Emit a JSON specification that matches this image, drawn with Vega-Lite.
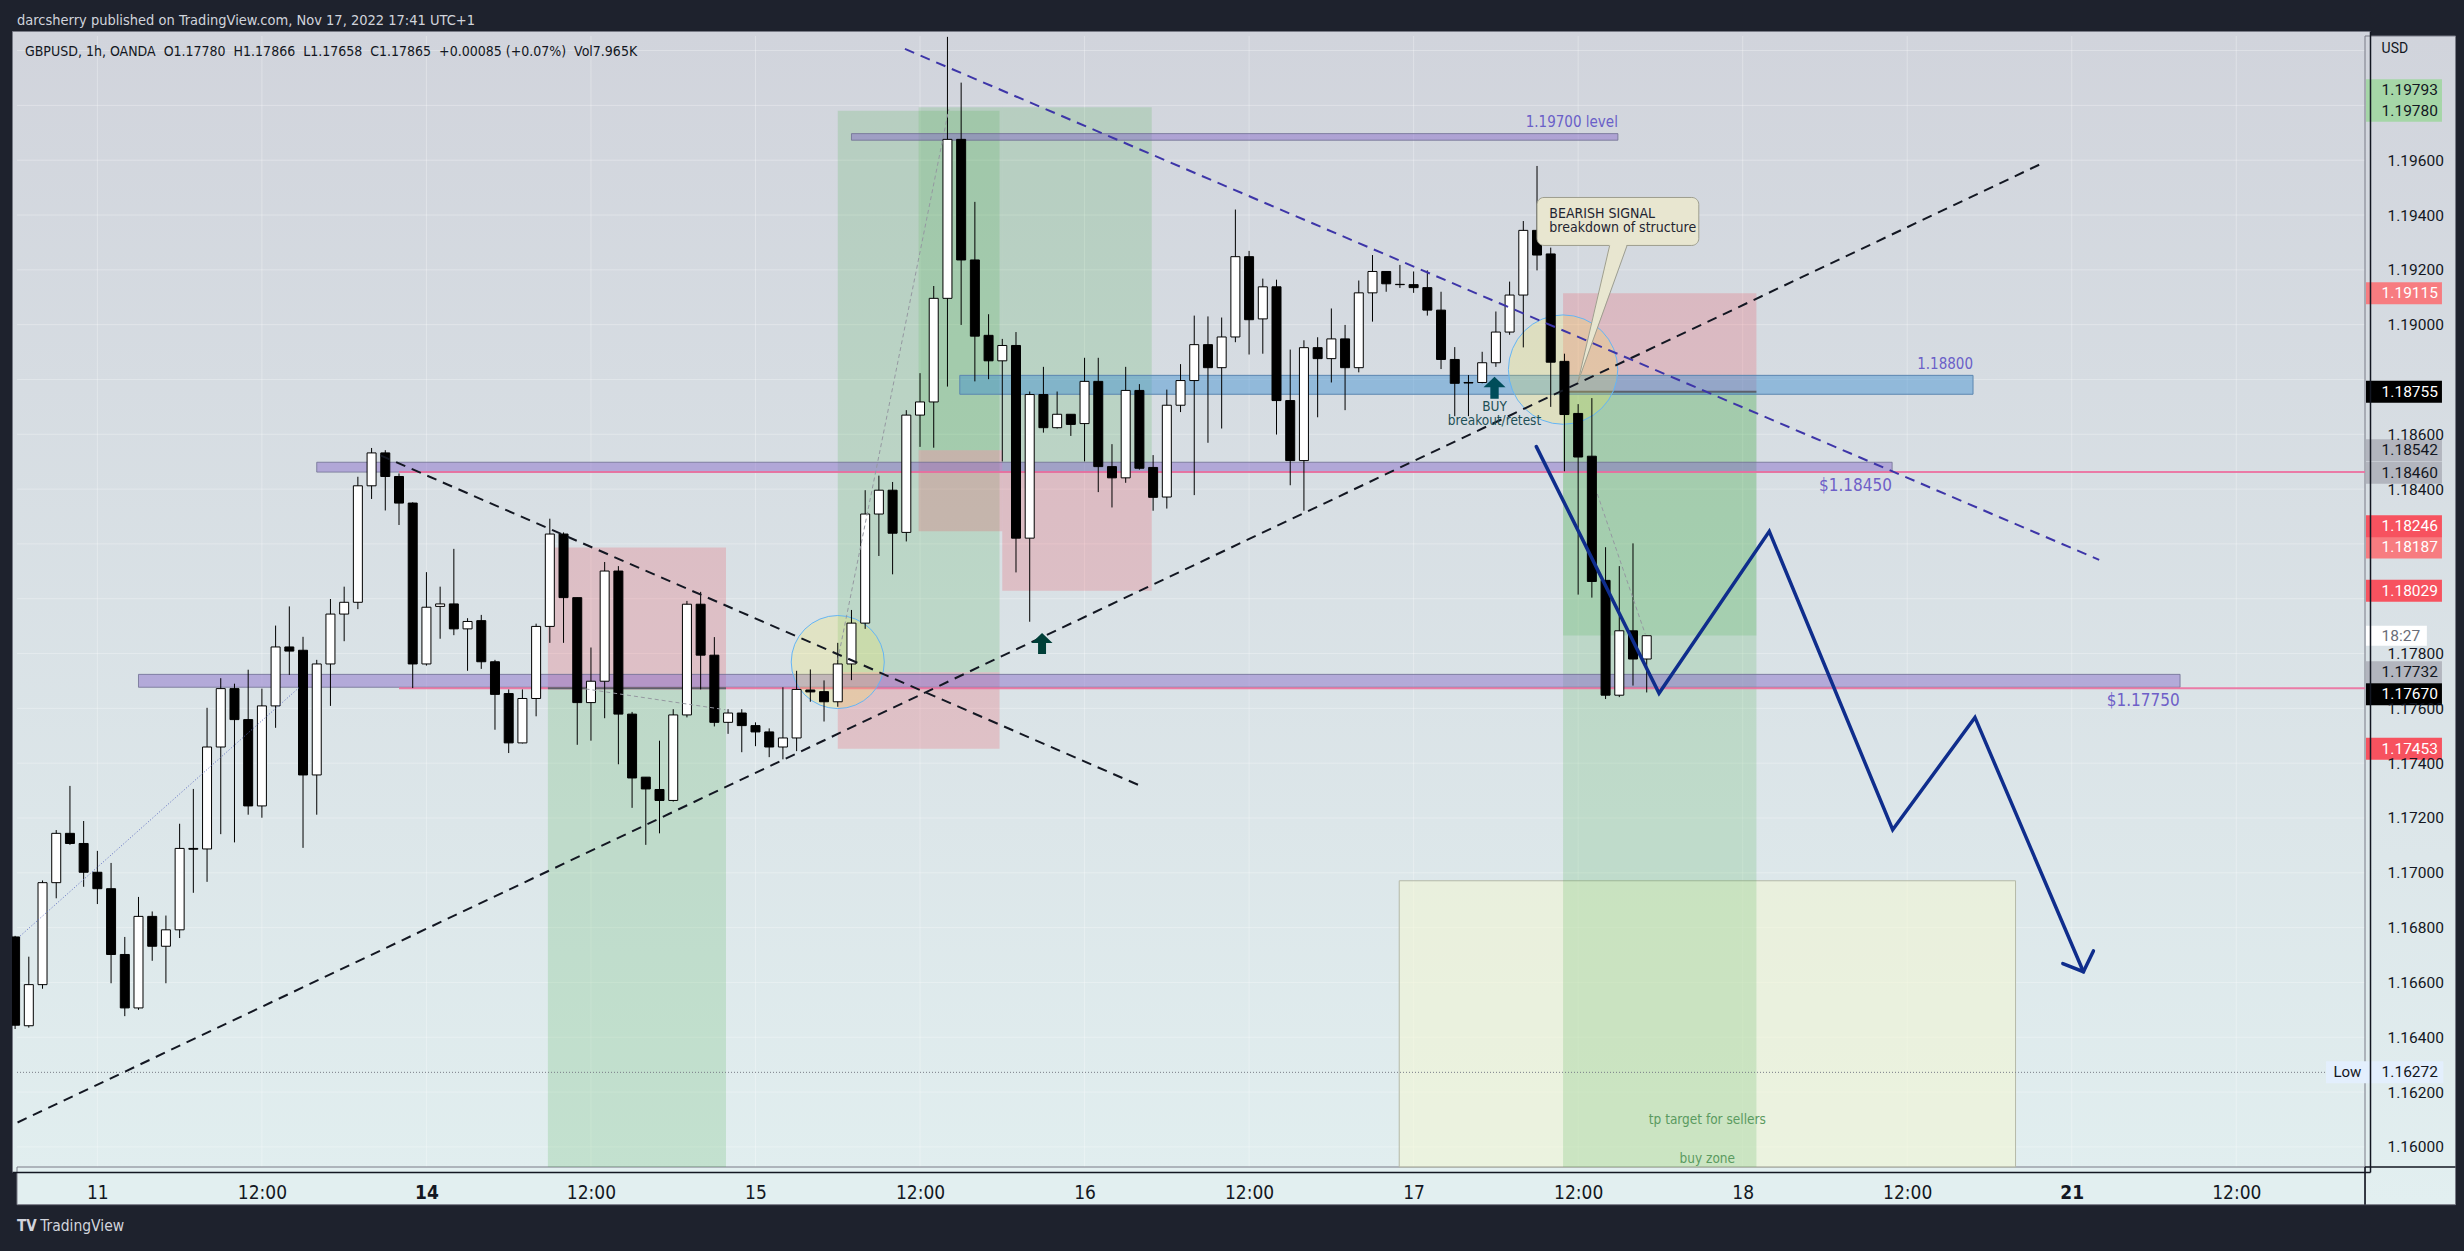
{
"$schema": "https://vega.github.io/schema/vega-lite/v6.json",
"width": 2358, "height": 1141,
"autosize": {"type": "none"},
"padding": {"left": 12, "top": 31, "right": 94, "bottom": 79},
"background": "#1e222d",
"config": {
  "view": {"fill": {"gradient": "linear", "x1": 0, "y1": 0, "x2": 0, "y2": 1, "stops": [{"offset": 0, "color": "#d1d4dc"}, {"offset": 1, "color": "#e1eeef"}]}, "stroke": "#787b86", "strokeWidth": 1},
  "axis": {"grid": false, "ticks": false, "domain": false, "labels": false, "titleOpacity": 0},
  "text": {"font": "Liberation Sans Narrow, Arial Narrow, DejaVu Sans Condensed, sans-serif", "baseline": "middle"}
},
"datasets": {
  "candles": [
    {"i":-6,"o":1.16766,"h":1.1677,"l":1.1643,"c":1.16444},
    {"i":-5,"o":1.16442,"h":1.16694,"l":1.16435,"c":1.16592},
    {"i":-4,"o":1.16592,"h":1.16972,"l":1.16577,"c":1.16964},
    {"i":-3,"o":1.16964,"h":1.17156,"l":1.16907,"c":1.17144},
    {"i":-2,"o":1.17144,"h":1.17317,"l":1.17102,"c":1.17107},
    {"i":-1,"o":1.17107,"h":1.17189,"l":1.16949,"c":1.17002},
    {"i":0,"o":1.17002,"h":1.1708,"l":1.16886,"c":1.16942},
    {"i":1,"o":1.16942,"h":1.17036,"l":1.16597,"c":1.16702},
    {"i":2,"o":1.16702,"h":1.16766,"l":1.16477,"c":1.16507},
    {"i":3,"o":1.16507,"h":1.16912,"l":1.165,"c":1.16841},
    {"i":4,"o":1.16841,"h":1.16859,"l":1.16679,"c":1.16732},
    {"i":5,"o":1.16732,"h":1.16844,"l":1.16597,"c":1.16792},
    {"i":6,"o":1.16792,"h":1.17179,"l":1.16762,"c":1.17089},
    {"i":7,"o":1.17089,"h":1.17306,"l":1.16927,"c":1.17086},
    {"i":8,"o":1.17087,"h":1.17602,"l":1.16967,"c":1.17459},
    {"i":9,"o":1.17459,"h":1.1771,"l":1.17141,"c":1.17672},
    {"i":10,"o":1.17672,"h":1.1769,"l":1.17111,"c":1.17559},
    {"i":11,"o":1.17559,"h":1.17741,"l":1.17212,"c":1.17244},
    {"i":12,"o":1.17244,"h":1.17672,"l":1.17201,"c":1.17609},
    {"i":13,"o":1.17609,"h":1.17902,"l":1.17529,"c":1.17824},
    {"i":14,"o":1.17824,"h":1.17972,"l":1.17722,"c":1.17809},
    {"i":15,"o":1.17812,"h":1.17861,"l":1.17091,"c":1.17357},
    {"i":16,"o":1.17357,"h":1.17777,"l":1.17212,"c":1.17762},
    {"i":17,"o":1.17762,"h":1.17999,"l":1.17609,"c":1.17944},
    {"i":18,"o":1.17944,"h":1.18044,"l":1.17845,"c":1.17987},
    {"i":19,"o":1.17987,"h":1.18445,"l":1.17962,"c":1.18412},
    {"i":20,"o":1.18412,"h":1.1855,"l":1.18364,"c":1.18532},
    {"i":21,"o":1.18532,"h":1.18542,"l":1.18322,"c":1.18446},
    {"i":22,"o":1.18446,"h":1.18457,"l":1.18269,"c":1.18349},
    {"i":23,"o":1.18349,"h":1.18352,"l":1.17674,"c":1.17762},
    {"i":24,"o":1.17762,"h":1.18097,"l":1.17756,"c":1.17969},
    {"i":25,"o":1.17972,"h":1.18044,"l":1.17854,"c":1.17981},
    {"i":26,"o":1.17981,"h":1.18182,"l":1.17867,"c":1.1789},
    {"i":27,"o":1.1789,"h":1.17929,"l":1.17737,"c":1.17917},
    {"i":28,"o":1.1792,"h":1.17941,"l":1.17744,"c":1.1777},
    {"i":29,"o":1.1777,"h":1.17777,"l":1.17522,"c":1.17651},
    {"i":30,"o":1.17654,"h":1.17669,"l":1.17437,"c":1.17474},
    {"i":31,"o":1.17474,"h":1.17669,"l":1.17472,"c":1.17636},
    {"i":32,"o":1.17636,"h":1.17909,"l":1.17571,"c":1.17899},
    {"i":33,"o":1.17899,"h":1.18292,"l":1.17839,"c":1.18236},
    {"i":34,"o":1.18236,"h":1.18242,"l":1.17839,"c":1.18004},
    {"i":35,"o":1.18004,"h":1.18004,"l":1.17467,"c":1.17621},
    {"i":36,"o":1.17621,"h":1.17822,"l":1.17482,"c":1.17699},
    {"i":37,"o":1.17699,"h":1.18134,"l":1.17564,"c":1.18101},
    {"i":38,"o":1.18101,"h":1.18119,"l":1.17396,"c":1.17579},
    {"i":39,"o":1.17579,"h":1.17587,"l":1.17237,"c":1.17346},
    {"i":40,"o":1.17349,"h":1.17349,"l":1.17102,"c":1.17306},
    {"i":41,"o":1.17304,"h":1.17482,"l":1.17144,"c":1.17264},
    {"i":42,"o":1.17264,"h":1.17597,"l":1.1726,"c":1.17576},
    {"i":43,"o":1.17576,"h":1.17992,"l":1.17567,"c":1.1798},
    {"i":44,"o":1.1798,"h":1.18025,"l":1.17669,"c":1.17794},
    {"i":45,"o":1.17794,"h":1.1786,"l":1.17534,"c":1.17549},
    {"i":46,"o":1.17549,"h":1.17597,"l":1.17507,"c":1.17583},
    {"i":47,"o":1.17583,"h":1.17597,"l":1.1744,"c":1.17537},
    {"i":48,"o":1.17537,"h":1.17549,"l":1.17462,"c":1.17514},
    {"i":49,"o":1.17514,"h":1.17527,"l":1.17422,"c":1.17459},
    {"i":50,"o":1.17459,"h":1.17677,"l":1.17414,"c":1.17492},
    {"i":51,"o":1.17492,"h":1.17737,"l":1.17444,"c":1.17669},
    {"i":52,"o":1.17667,"h":1.17742,"l":1.17624,"c":1.1766},
    {"i":53,"o":1.17661,"h":1.17702,"l":1.17552,"c":1.17624},
    {"i":54,"o":1.17624,"h":1.17839,"l":1.17606,"c":1.17762},
    {"i":55,"o":1.17762,"h":1.17959,"l":1.17703,"c":1.17911},
    {"i":56,"o":1.17911,"h":1.18396,"l":1.1789,"c":1.18309},
    {"i":57,"o":1.18309,"h":1.18449,"l":1.18156,"c":1.18396},
    {"i":58,"o":1.18396,"h":1.18426,"l":1.18089,"c":1.18239},
    {"i":59,"o":1.18242,"h":1.18688,"l":1.18209,"c":1.1867},
    {"i":60,"o":1.1867,"h":1.18823,"l":1.18554,"c":1.18718},
    {"i":61,"o":1.18718,"h":1.19141,"l":1.18551,"c":1.19096},
    {"i":62,"o":1.19096,"h":1.2005,"l":1.18774,"c":1.19676},
    {"i":63,"o":1.19676,"h":1.19883,"l":1.18999,"c":1.19236},
    {"i":64,"o":1.19236,"h":1.19448,"l":1.18793,"c":1.18958},
    {"i":65,"o":1.18961,"h":1.19038,"l":1.18801,"c":1.18868},
    {"i":66,"o":1.18868,"h":1.18948,"l":1.18501,"c":1.18924},
    {"i":67,"o":1.18924,"h":1.18973,"l":1.18096,"c":1.18221},
    {"i":68,"o":1.18221,"h":1.18756,"l":1.17916,"c":1.18745},
    {"i":69,"o":1.18745,"h":1.18846,"l":1.18606,"c":1.18624},
    {"i":70,"o":1.18624,"h":1.18756,"l":1.18621,"c":1.18673},
    {"i":71,"o":1.18673,"h":1.18673,"l":1.18594,"c":1.18636},
    {"i":72,"o":1.18639,"h":1.18879,"l":1.18501,"c":1.18793},
    {"i":73,"o":1.18793,"h":1.18879,"l":1.18389,"c":1.18482},
    {"i":74,"o":1.18482,"h":1.18564,"l":1.18333,"c":1.18441},
    {"i":75,"o":1.18441,"h":1.18846,"l":1.18423,"c":1.1876},
    {"i":76,"o":1.1876,"h":1.18783,"l":1.18471,"c":1.18476},
    {"i":77,"o":1.18479,"h":1.18524,"l":1.18321,"c":1.1837},
    {"i":78,"o":1.18371,"h":1.18763,"l":1.18329,"c":1.18706},
    {"i":79,"o":1.18706,"h":1.18856,"l":1.18681,"c":1.18796},
    {"i":80,"o":1.18796,"h":1.19033,"l":1.18378,"c":1.18927},
    {"i":81,"o":1.18927,"h":1.1903,"l":1.18569,"c":1.18843},
    {"i":82,"o":1.18843,"h":1.19026,"l":1.18621,"c":1.18955},
    {"i":83,"o":1.18955,"h":1.1942,"l":1.18936,"c":1.19248},
    {"i":84,"o":1.19248,"h":1.19269,"l":1.18891,"c":1.19018},
    {"i":85,"o":1.19021,"h":1.19168,"l":1.18894,"c":1.19138},
    {"i":86,"o":1.19138,"h":1.19164,"l":1.18599,"c":1.18723},
    {"i":87,"o":1.18723,"h":1.18909,"l":1.18414,"c":1.18504},
    {"i":88,"o":1.18504,"h":1.18943,"l":1.18321,"c":1.18916},
    {"i":89,"o":1.18916,"h":1.18954,"l":1.18662,"c":1.18876},
    {"i":90,"o":1.18876,"h":1.19059,"l":1.18789,"c":1.18948},
    {"i":91,"o":1.18948,"h":1.18999,"l":1.18688,"c":1.18843},
    {"i":92,"o":1.18843,"h":1.19161,"l":1.18826,"c":1.19116},
    {"i":93,"o":1.19116,"h":1.19254,"l":1.19011,"c":1.19194},
    {"i":94,"o":1.19194,"h":1.19194,"l":1.1912,"c":1.19149},
    {"i":95,"o":1.19147,"h":1.19218,"l":1.19134,"c":1.19146},
    {"i":96,"o":1.19146,"h":1.19194,"l":1.19116,"c":1.19135},
    {"i":97,"o":1.19135,"h":1.19198,"l":1.19033,"c":1.19053},
    {"i":98,"o":1.19053,"h":1.1912,"l":1.18838,"c":1.18873},
    {"i":99,"o":1.18873,"h":1.18918,"l":1.18666,"c":1.18786},
    {"i":100,"o":1.18789,"h":1.18816,"l":1.18666,"c":1.18787},
    {"i":101,"o":1.18789,"h":1.18901,"l":1.18786,"c":1.18861},
    {"i":102,"o":1.18861,"h":1.19048,"l":1.18846,"c":1.18973},
    {"i":103,"o":1.18973,"h":1.19157,"l":1.18963,"c":1.19108},
    {"i":104,"o":1.19108,"h":1.19378,"l":1.18917,"c":1.19344},
    {"i":105,"o":1.19344,"h":1.19579,"l":1.19198,"c":1.19254},
    {"i":106,"o":1.19258,"h":1.19281,"l":1.187,"c":1.18863},
    {"i":107,"o":1.18866,"h":1.18894,"l":1.18465,"c":1.18672},
    {"i":108,"o":1.18676,"h":1.1871,"l":1.18015,"c":1.18517},
    {"i":109,"o":1.1852,"h":1.18732,"l":1.18004,"c":1.18063},
    {"i":110,"o":1.18067,"h":1.18188,"l":1.17634,"c":1.17648},
    {"i":111,"o":1.17648,"h":1.18119,"l":1.17641,"c":1.17883},
    {"i":112,"o":1.17883,"h":1.18202,"l":1.17683,"c":1.1778},
    {"i":113,"o":1.1778,"h":1.17866,"l":1.17658,"c":1.17865}
  ],
  "gx": [{"i":0},{"i":12},{"i":24},{"i":36},{"i":48},{"i":60},{"i":72},{"i":84},{"i":96},{"i":108},{"i":120},{"i":132},{"i":144},{"i":156}],
  "gy": [{"p":1.16},{"p":1.162},{"p":1.164},{"p":1.166},{"p":1.168},{"p":1.17},{"p":1.172},{"p":1.174},{"p":1.176},{"p":1.178},{"p":1.18},{"p":1.182},{"p":1.184},{"p":1.186},{"p":1.188},{"p":1.19},{"p":1.192},{"p":1.194},{"p":1.196},{"p":1.198},{"p":1.2}],
  "panels": [{"k":"right","i":165.388,"i2":171.99,"p":1.2005316,"p2":1.157892},{"k":"bottom","i":-5.861,"i2":165.388,"p":1.159266,"p2":1.157892}],
  "frame": [{"i":165.388,"i2":165.388,"p":1.159266,"p2":1.157892},{"i":165.388,"i2":171.99,"p":1.159266,"p2":1.159266}],
  "zones": [
    {"k":"g","i":32.86,"i2":45.85,"p":1.17673,"p2":1.159266},
    {"k":"g","i":54.0,"i2":65.8,"p":1.17732,"p2":1.1978},
    {"k":"g","i":59.9,"i2":66.0,"p":1.18542,"p2":1.19793},
    {"k":"g","i":66.0,"i2":76.9,"p":1.1846,"p2":1.19793},
    {"k":"g","i":106.9,"i2":121.0,"p":1.18755,"p2":1.159266},
    {"k":"g","i":106.9,"i2":121.0,"p":1.18755,"p2":1.17866},
    {"k":"r","i":32.86,"i2":45.85,"p":1.17673,"p2":1.18187},
    {"k":"r","i":54.0,"i2":65.8,"p":1.17732,"p2":1.17453},
    {"k":"r","i":59.9,"i2":66.0,"p":1.18542,"p2":1.18246},
    {"k":"r","i":66.0,"i2":76.9,"p":1.1846,"p2":1.18029},
    {"k":"r","i":106.9,"i2":121.0,"p":1.18755,"p2":1.19115}
  ],
  "bands": [
    {"i":55.0,"i2":110.9,"p":1.19697,"p2":1.19673},
    {"i":16.0,"i2":130.9,"p":1.18498,"p2":1.18462},
    {"i":3.0,"i2":151.9,"p":1.17724,"p2":1.17677}
  ],
  "blue": [{"i":62.9,"i2":136.8,"p":1.18815,"p2":1.18746}],
  "yzone": [{"i":94.95,"i2":139.9,"p":1.16971,"p2":1.159266}],
  "pinks": [{"i":22.0,"i2":165.388,"p":1.18462},{"i":22.0,"i2":165.388,"p":1.17673}],
  "entries": [{"i":32.86,"i2":45.85,"p":1.17673},{"i":106.9,"i2":121.0,"p":1.18755}],
  "lowline": [{"i":-5.861,"i2":162.55,"p":1.16272}],
  "circles": [{"k":"a","i":54.0,"p":1.17769},{"k":"b","i":106.9,"p":1.18836}],
  "lines": [
    {"id":"up","i":-5.82,"p":1.16089},{"id":"up","i":141.9,"p":1.1959},
    {"id":"dn","i":20.65,"p":1.18523},{"id":"dn","i":76.0,"p":1.17319},
    {"id":"navy","i":58.9,"p":1.20006},{"id":"navy","i":146.0,"p":1.18142},
    {"id":"thin","i":-5.62,"p":1.1677},{"id":"thin","i":14.76,"p":1.17678},
    {"id":"g1","i":54.0,"p":1.17777},{"id":"g1","i":62.1,"p":1.19786},
    {"id":"g2","i":109.4,"p":1.18382},{"id":"g2","i":112.9,"p":1.1787},
    {"id":"g3","i":35.6,"p":1.17671},{"id":"g3","i":45.8,"p":1.17595}
  ],
  "zig": [
    {"g":"z","s":1,"i":104.95,"p":1.18555},{"g":"z","s":2,"i":113.9,"p":1.17655},
    {"g":"z","s":3,"i":121.94,"p":1.18246},{"g":"z","s":4,"i":130.94,"p":1.17157},
    {"g":"z","s":5,"i":136.94,"p":1.17567},{"g":"z","s":6,"i":144.85,"p":1.16639},
    {"g":"h","s":1,"i":143.35,"p":1.16669},{"g":"h","s":2,"i":144.85,"p":1.16639},
    {"g":"h","s":3,"i":145.58,"p":1.16715}
  ],
  "arrows": [{"k":"buy","i":101.9,"p":1.1877},{"k":"small","i":68.9,"p":1.17837}],
  "callout": [{"i":105.0,"i2":116.8,"p":1.19464,"p2":1.19289}],
  "pointer": [{"p":1.19295,"i":110.3,"i2":111.57},{"p":1.1879,"i":107.98,"i2":107.98}],
  "pointerSides": [
    {"g":"a","i":110.3,"p":1.19289},{"g":"a","i":107.98,"p":1.1879},
    {"g":"b","i":111.57,"p":1.19289},{"g":"b","i":107.98,"p":1.1879}
  ],
  "notes": [
    {"k":"hdr","i":-5.861,"p":1.201074,"t":"darcsherry published on TradingView.com, Nov 17, 2022 17:41 UTC+1"},
    {"k":"ohlc","i":-5.28,"p":1.199964,"t":"GBPUSD, 1h, OANDA\u00a0\u00a0O1.17780\u00a0\u00a0H1.17866\u00a0\u00a0L1.17658\u00a0\u00a0C1.17865\u00a0\u00a0+0.00085 (+0.07%)\u00a0\u00a0Vol7.965K"},
    {"k":"usd","i":166.6,"p":1.200062,"t":"USD"},
    {"k":"logo1","i":-5.861,"p":1.157096,"t":"TV"},
    {"k":"logo2","i":-4.17,"p":1.157096,"t":"TradingView"},
    {"k":"band","i":110.9,"p":1.19738,"t":"1.19700 level"},
    {"k":"band","i":136.8,"p":1.18855,"t":"1.18800"},
    {"k":"bandL","i":130.89,"p":1.18412,"t":"$1.18450"},
    {"k":"bandL","i":151.87,"p":1.17628,"t":"$1.17750"},
    {"k":"buy","i":101.9,"p":1.18698,"t":"BUY"},
    {"k":"buy","i":101.9,"p":1.18649,"t":"breakout/retest"},
    {"k":"call","i":105.9,"p":1.19403,"t":"BEARISH SIGNAL"},
    {"k":"call","i":105.9,"p":1.19353,"t":"breakdown of structure"},
    {"k":"zone","i":117.42,"p":1.16099,"t":"tp target for sellers"},
    {"k":"zone","i":117.42,"p":1.15955,"t":"buy zone"}
  ],
  "tags": [
    {"p":1.19793,"t":"1.19793","k":"tp"},
    {"p":1.1978,"t":"1.19780","k":"tp"},
    {"p":1.19115,"t":"1.19115","k":"sl2"},
    {"p":1.18755,"t":"1.18755","k":"en"},
    {"p":1.18542,"t":"1.18542","k":"el"},
    {"p":1.1846,"t":"1.18460","k":"el"},
    {"p":1.18246,"t":"1.18246","k":"sl"},
    {"p":1.18187,"t":"1.18187","k":"sl2"},
    {"p":1.18029,"t":"1.18029","k":"sl"},
    {"p":1.17732,"t":"1.17732","k":"el"},
    {"p":1.1767,"t":"1.17670","k":"en"},
    {"p":1.17453,"t":"1.17453","k":"sl"}
  ],
  "countdown": [{"p":1.17865,"t":"18:27"}],
  "lowtag": [{"p":1.16272,"t":"1.16272"}]
},
"layer": [
  {
    "data": {"name": "gx"},
    "mark": {"type": "rule", "color": "#ffffff", "opacity": 0.3, "strokeWidth": 1},
    "encoding": {
      "x": {"field": "i", "type": "quantitative", "scale": {"domain": [-5.861, 165.388], "nice": false, "zero": false},
        "axis": {"orient": "bottom", "zindex": 1, "values": [0,12,24,36,48,60,72,84,96,108,120,132,144,156],
          "labelExpr": "['11','12:00','14','12:00','15','12:00','16','12:00','17','12:00','18','12:00','21','12:00'][round(datum.value/12)]",
          "labels": true, "ticks": false, "tickSize": 0, "grid": false, "domain": true, "domainColor": "#131722", "domainWidth": 1.5,
          "labelFont": "Liberation Sans Narrow, Arial Narrow, DejaVu Sans Condensed, sans-serif", "labelFontSize": 19, "labelColor": "#131722",
          "labelFontWeight": {"condition": {"test": "datum.value == 24 || datum.value == 144", "value": "bold"}, "value": "normal"},
          "labelPadding": 20, "labelBaseline": "middle", "labelFlush": false, "labelOverlap": false, "title": null}},
      "y": {"datum": 1.2005316, "type": "quantitative", "scale": {"domain": [1.159266, 1.2005316], "nice": false, "zero": false}},
      "y2": {"datum": 1.159266}
    }
  },
  {
    "data": {"name": "gy"},
    "mark": {"type": "rule", "color": "#ffffff", "opacity": 0.3, "strokeWidth": 1},
    "encoding": {
      "y": {"field": "p", "type": "quantitative", "scale": {"domain": [1.159266, 1.2005316], "nice": false, "zero": false},
        "axis": {"orient": "right", "zindex": 1, "values": [1.16,1.162,1.164,1.166,1.168,1.17,1.172,1.174,1.176,1.178,1.184,1.186,1.19,1.192,1.194,1.196],
          "format": ".5f", "labels": true, "ticks": false, "tickSize": 0, "grid": false, "domain": true, "domainColor": "#131722", "domainWidth": 1.5,
          "labelFont": "Roboto, sans-serif", "labelFontSize": 15.5, "labelColor": "#131722", "labelPadding": 17, "labelAlign": "left",
          "labelBaseline": "middle", "labelFlush": false, "labelOverlap": false, "title": null}},
      "x": {"datum": -5.861, "type": "quantitative", "scale": {"domain": [-5.861, 165.388], "nice": false, "zero": false}},
      "x2": {"datum": 165.388}
    }
  },
  {
    "data": {"name": "panels"},
    "transform": [{"filter": "datum.k == 'right'"}],
    "mark": {"type": "rect", "fill": {"gradient": "linear", "x1": 0, "y1": 0, "x2": 0, "y2": 1, "stops": [{"offset": 0, "color": "#d1d4dc"}, {"offset": 1, "color": "#e2eff0"}]}, "stroke": "#787b86", "strokeWidth": 1},
    "encoding": {
      "x": {"field": "i", "type": "quantitative"}, "x2": {"field": "i2"},
      "y": {"field": "p", "type": "quantitative"}, "y2": {"field": "p2"}
    }
  },
  {
    "data": {"name": "panels"},
    "transform": [{"filter": "datum.k == 'bottom'"}],
    "mark": {"type": "rect", "fill": "#e2eff0", "stroke": "#787b86", "strokeWidth": 1},
    "encoding": {
      "x": {"field": "i", "type": "quantitative"}, "x2": {"field": "i2"},
      "y": {"field": "p", "type": "quantitative"}, "y2": {"field": "p2"}
    }
  },
  {
    "data": {"name": "frame"},
    "mark": {"type": "rule", "color": "#131722", "strokeWidth": 1.5},
    "encoding": {
      "x": {"field": "i", "type": "quantitative"}, "x2": {"field": "i2"},
      "y": {"field": "p", "type": "quantitative"}, "y2": {"field": "p2"}
    }
  },
  {
    "data": {"name": "yzone"},
    "mark": {"type": "rect", "fill": "#f6f8cf", "fillOpacity": 0.5, "stroke": "#b5b9a8", "strokeWidth": 1},
    "encoding": {
      "x": {"field": "i", "type": "quantitative"}, "x2": {"field": "i2"},
      "y": {"field": "p", "type": "quantitative"}, "y2": {"field": "p2"}
    }
  },
  {
    "data": {"name": "zones"},
    "transform": [{"filter": "datum.k == 'g'"}],
    "mark": {"type": "rect", "fill": "#4caf50", "fillOpacity": 0.2},
    "encoding": {
      "x": {"field": "i", "type": "quantitative"}, "x2": {"field": "i2"},
      "y": {"field": "p", "type": "quantitative"}, "y2": {"field": "p2"}
    }
  },
  {
    "data": {"name": "zones"},
    "transform": [{"filter": "datum.k == 'r'"}],
    "mark": {"type": "rect", "fill": "#f23645", "fillOpacity": 0.2},
    "encoding": {
      "x": {"field": "i", "type": "quantitative"}, "x2": {"field": "i2"},
      "y": {"field": "p", "type": "quantitative"}, "y2": {"field": "p2"}
    }
  },
  {
    "data": {"name": "bands"},
    "mark": {"type": "rect", "fill": "#8264c8", "fillOpacity": 0.45, "stroke": "#6f6f92", "strokeOpacity": 0.8, "strokeWidth": 1},
    "encoding": {
      "x": {"field": "i", "type": "quantitative"}, "x2": {"field": "i2"},
      "y": {"field": "p", "type": "quantitative"}, "y2": {"field": "p2"}
    }
  },
  {
    "data": {"name": "blue"},
    "mark": {"type": "rect", "fill": "#3f8fd0", "fillOpacity": 0.45, "stroke": "#5b86b0", "strokeWidth": 1},
    "encoding": {
      "x": {"field": "i", "type": "quantitative"}, "x2": {"field": "i2"},
      "y": {"field": "p", "type": "quantitative"}, "y2": {"field": "p2"}
    }
  },
  {
    "data": {"name": "pinks"},
    "mark": {"type": "rule", "color": "#ec6f9f", "strokeWidth": 2, "opacity": 0.9},
    "encoding": {
      "x": {"field": "i", "type": "quantitative"}, "x2": {"field": "i2"},
      "y": {"field": "p", "type": "quantitative"}
    }
  },
  {
    "data": {"name": "entries"},
    "mark": {"type": "rule", "color": "#5d606b", "strokeWidth": 2},
    "encoding": {
      "x": {"field": "i", "type": "quantitative"}, "x2": {"field": "i2"},
      "y": {"field": "p", "type": "quantitative"}
    }
  },
  {
    "data": {"name": "lowline"},
    "mark": {"type": "rule", "color": "#787b86", "strokeWidth": 1, "strokeDash": [1, 2]},
    "encoding": {
      "x": {"field": "i", "type": "quantitative"}, "x2": {"field": "i2"},
      "y": {"field": "p", "type": "quantitative"}
    }
  },
  {
    "data": {"name": "circles"},
    "transform": [{"filter": "datum.k == 'a'"}],
    "mark": {"type": "point", "shape": "circle", "filled": true, "size": 8659, "fill": "#ffeb3b", "fillOpacity": 0.2, "stroke": "#64b5f6", "strokeWidth": 1, "strokeOpacity": 1, "opacity": 1},
    "encoding": {
      "x": {"field": "i", "type": "quantitative"},
      "y": {"field": "p", "type": "quantitative"}
    }
  },
  {
    "data": {"name": "circles"},
    "transform": [{"filter": "datum.k == 'b'"}],
    "mark": {"type": "point", "shape": "circle", "filled": true, "size": 11960, "fill": "#ffeb3b", "fillOpacity": 0.2, "stroke": "#64b5f6", "strokeWidth": 1, "strokeOpacity": 1, "opacity": 1},
    "encoding": {
      "x": {"field": "i", "type": "quantitative"},
      "y": {"field": "p", "type": "quantitative"}
    }
  },
  {
    "data": {"name": "candles"},
    "mark": {"type": "rule", "color": "#000000", "strokeWidth": 1, "clip": true},
    "encoding": {
      "x": {"field": "i", "type": "quantitative"},
      "y": {"field": "l", "type": "quantitative"},
      "y2": {"field": "h"}
    }
  },
  {
    "data": {"name": "candles"},
    "mark": {"type": "bar", "orient": "vertical", "size": 9, "stroke": "#000000", "strokeWidth": 1, "clip": true},
    "encoding": {
      "x": {"field": "i", "type": "quantitative"},
      "y": {"field": "o", "type": "quantitative"},
      "y2": {"field": "c"},
      "fill": {"condition": {"test": "datum.c >= datum.o", "value": "#ffffff"}, "value": "#000000"}
    }
  },
  {
    "data": {"name": "lines"},
    "transform": [{"filter": "datum.id == 'up' || datum.id == 'dn'"}],
    "mark": {"type": "line", "color": "#131722", "strokeWidth": 2, "strokeDash": [10, 7]},
    "encoding": {
      "x": {"field": "i", "type": "quantitative"},
      "y": {"field": "p", "type": "quantitative"},
      "detail": {"field": "id"}
    }
  },
  {
    "data": {"name": "lines"},
    "transform": [{"filter": "datum.id == 'navy'"}],
    "mark": {"type": "line", "color": "#3d35a8", "strokeWidth": 2, "strokeDash": [10, 7]},
    "encoding": {
      "x": {"field": "i", "type": "quantitative"},
      "y": {"field": "p", "type": "quantitative"}
    }
  },
  {
    "data": {"name": "lines"},
    "transform": [{"filter": "datum.id == 'thin'"}],
    "mark": {"type": "line", "color": "#5c6bc0", "strokeWidth": 1, "strokeDash": [1, 2]},
    "encoding": {
      "x": {"field": "i", "type": "quantitative"},
      "y": {"field": "p", "type": "quantitative"}
    }
  },
  {
    "data": {"name": "lines"},
    "transform": [{"filter": "datum.id == 'g1' || datum.id == 'g2' || datum.id == 'g3'"}],
    "mark": {"type": "line", "color": "#9598a1", "strokeWidth": 1, "strokeDash": [4, 3]},
    "encoding": {
      "x": {"field": "i", "type": "quantitative"},
      "y": {"field": "p", "type": "quantitative"},
      "detail": {"field": "id"}
    }
  },
  {
    "data": {"name": "zig"},
    "mark": {"type": "line", "color": "#0f2d8c", "strokeWidth": 3.5, "strokeCap": "round", "strokeJoin": "miter"},
    "encoding": {
      "x": {"field": "i", "type": "quantitative"},
      "y": {"field": "p", "type": "quantitative"},
      "detail": {"field": "g"},
      "order": {"field": "s"}
    }
  },
  {
    "data": {"name": "arrows"},
    "transform": [{"filter": "datum.k == 'buy'"}],
    "mark": {"type": "point", "shape": "M0,-1L1,-0.05L0.38,-0.05L0.38,1L-0.38,1L-0.38,-0.05L-1,-0.05Z", "filled": true, "size": 484, "color": "#004d5a", "opacity": 1},
    "encoding": {
      "x": {"field": "i", "type": "quantitative"},
      "y": {"field": "p", "type": "quantitative"}
    }
  },
  {
    "data": {"name": "arrows"},
    "transform": [{"filter": "datum.k == 'small'"}],
    "mark": {"type": "point", "shape": "M0,-1L1,-0.05L0.38,-0.05L0.38,1L-0.38,1L-0.38,-0.05L-1,-0.05Z", "filled": true, "size": 440, "color": "#003f38", "opacity": 1},
    "encoding": {
      "x": {"field": "i", "type": "quantitative"},
      "y": {"field": "p", "type": "quantitative"}
    }
  },
  {
    "data": {"name": "callout"},
    "mark": {"type": "rect", "fill": "#e8e6d0", "stroke": "#9e9e8e", "strokeWidth": 1, "cornerRadius": 7},
    "encoding": {
      "x": {"field": "i", "type": "quantitative"}, "x2": {"field": "i2"},
      "y": {"field": "p", "type": "quantitative"}, "y2": {"field": "p2"}
    }
  },
  {
    "data": {"name": "pointer"},
    "mark": {"type": "area", "orient": "horizontal", "fill": "#e8e6d0", "opacity": 1},
    "encoding": {
      "y": {"field": "p", "type": "quantitative"},
      "x": {"field": "i", "type": "quantitative"},
      "x2": {"field": "i2"}
    }
  },
  {
    "data": {"name": "pointerSides"},
    "mark": {"type": "line", "color": "#9e9e8e", "strokeWidth": 1},
    "encoding": {
      "x": {"field": "i", "type": "quantitative"},
      "y": {"field": "p", "type": "quantitative"},
      "detail": {"field": "g"}
    }
  },
  {
    "data": {"name": "notes"},
    "transform": [{"filter": "datum.k == 'hdr'"}],
    "mark": {"type": "text", "align": "left", "fontSize": 14.5, "color": "#d1d4dc"},
    "encoding": {
      "x": {"field": "i", "type": "quantitative"},
      "y": {"field": "p", "type": "quantitative"},
      "text": {"field": "t"}
    }
  },
  {
    "data": {"name": "notes"},
    "transform": [{"filter": "datum.k == 'ohlc'"}],
    "mark": {"type": "text", "align": "left", "fontSize": 14, "color": "#131722"},
    "encoding": {
      "x": {"field": "i", "type": "quantitative"},
      "y": {"field": "p", "type": "quantitative"},
      "text": {"field": "t"}
    }
  },
  {
    "data": {"name": "notes"},
    "transform": [{"filter": "datum.k == 'usd'"}],
    "mark": {"type": "text", "align": "left", "fontSize": 14, "font": "Roboto, sans-serif", "color": "#131722"},
    "encoding": {
      "x": {"field": "i", "type": "quantitative"},
      "y": {"field": "p", "type": "quantitative"},
      "text": {"field": "t"}
    }
  },
  {
    "data": {"name": "notes"},
    "transform": [{"filter": "datum.k == 'logo1'"}],
    "mark": {"type": "text", "align": "left", "fontSize": 15, "fontWeight": "bold", "font": "DejaVu Sans Condensed, sans-serif", "color": "#d1d4dc"},
    "encoding": {
      "x": {"field": "i", "type": "quantitative"},
      "y": {"field": "p", "type": "quantitative"},
      "text": {"field": "t"}
    }
  },
  {
    "data": {"name": "notes"},
    "transform": [{"filter": "datum.k == 'logo2'"}],
    "mark": {"type": "text", "align": "left", "fontSize": 15.5, "color": "#d1d4dc"},
    "encoding": {
      "x": {"field": "i", "type": "quantitative"},
      "y": {"field": "p", "type": "quantitative"},
      "text": {"field": "t"}
    }
  },
  {
    "data": {"name": "notes"},
    "transform": [{"filter": "datum.k == 'band'"}],
    "mark": {"type": "text", "align": "right", "fontSize": 15, "color": "#6a5fc8"},
    "encoding": {
      "x": {"field": "i", "type": "quantitative"},
      "y": {"field": "p", "type": "quantitative"},
      "text": {"field": "t"}
    }
  },
  {
    "data": {"name": "notes"},
    "transform": [{"filter": "datum.k == 'bandL'"}],
    "mark": {"type": "text", "align": "right", "fontSize": 17, "color": "#6e5fc8"},
    "encoding": {
      "x": {"field": "i", "type": "quantitative"},
      "y": {"field": "p", "type": "quantitative"},
      "text": {"field": "t"}
    }
  },
  {
    "data": {"name": "notes"},
    "transform": [{"filter": "datum.k == 'buy'"}],
    "mark": {"type": "text", "align": "center", "fontSize": 13.5, "color": "#1d4f55"},
    "encoding": {
      "x": {"field": "i", "type": "quantitative"},
      "y": {"field": "p", "type": "quantitative"},
      "text": {"field": "t"}
    }
  },
  {
    "data": {"name": "notes"},
    "transform": [{"filter": "datum.k == 'call'"}],
    "mark": {"type": "text", "align": "left", "fontSize": 14, "color": "#1f2430"},
    "encoding": {
      "x": {"field": "i", "type": "quantitative"},
      "y": {"field": "p", "type": "quantitative"},
      "text": {"field": "t"}
    }
  },
  {
    "data": {"name": "notes"},
    "transform": [{"filter": "datum.k == 'zone'"}],
    "mark": {"type": "text", "align": "center", "fontSize": 13.5, "color": "#5a9a60"},
    "encoding": {
      "x": {"field": "i", "type": "quantitative"},
      "y": {"field": "p", "type": "quantitative"},
      "text": {"field": "t"}
    }
  },
  {
    "data": {"name": "lowtag"},
    "layer": [
      {"mark": {"type": "bar", "orient": "horizontal", "size": 22, "color": "#e3effd"},
       "encoding": {"y": {"field": "p", "type": "quantitative"}, "x": {"datum": 162.55, "type": "quantitative"}, "x2": {"datum": 171.1}}},
      {"mark": {"type": "text", "align": "center", "fontSize": 15, "font": "Roboto, sans-serif", "color": "#131722"},
       "encoding": {"y": {"field": "p", "type": "quantitative"}, "x": {"datum": 164.1, "type": "quantitative"}, "text": {"value": "Low"}}},
      {"mark": {"type": "text", "align": "left", "fontSize": 15.5, "font": "Roboto, sans-serif", "color": "#131722"},
       "encoding": {"y": {"field": "p", "type": "quantitative"}, "x": {"datum": 166.6, "type": "quantitative"}, "text": {"field": "t"}}}
    ]
  },
  {
    "data": {"name": "countdown"},
    "layer": [
      {"mark": {"type": "bar", "orient": "horizontal", "size": 20, "color": "#ffffff"},
       "encoding": {"y": {"field": "p", "type": "quantitative"}, "x": {"datum": 165.46, "type": "quantitative"}, "x2": {"datum": 169.9}}},
      {"mark": {"type": "text", "align": "left", "fontSize": 15.5, "font": "Roboto, sans-serif", "color": "#6a6d78"},
       "encoding": {"y": {"field": "p", "type": "quantitative"}, "x": {"datum": 166.6, "type": "quantitative"}, "text": {"field": "t"}}}
    ]
  },
  {
    "data": {"name": "tags"},
    "transform": [{"filter": "datum.t != '1.19793' && datum.t != '1.18246' && datum.t != '1.17670'"}],
    "layer": [
      {"mark": {"type": "bar", "orient": "horizontal", "size": 22},
       "encoding": {"y": {"field": "p", "type": "quantitative"}, "x": {"datum": 165.46, "type": "quantitative"}, "x2": {"datum": 171.0},
         "fill": {"field": "k", "type": "nominal", "scale": {"domain": ["tp", "sl", "sl2", "en", "el"], "range": ["#a5d6a7", "#f7525f", "#f77c80", "#000000", "#b2b5be"]}, "legend": null}}},
      {"mark": {"type": "text", "align": "left", "fontSize": 15.5, "font": "Roboto, sans-serif"},
       "encoding": {"y": {"field": "p", "type": "quantitative"}, "x": {"datum": 166.6, "type": "quantitative"}, "text": {"field": "t"},
         "color": {"condition": {"test": "datum.k == 'tp' || datum.k == 'el'", "value": "#131722"}, "value": "#ffffff"}}}
    ]
  },
  {
    "data": {"name": "tags"},
    "transform": [{"filter": "datum.t == '1.19793'"}],
    "layer": [
      {"mark": {"type": "bar", "orient": "horizontal", "size": 22, "yOffset": -17, "color": "#a5d6a7"},
       "encoding": {"y": {"field": "p", "type": "quantitative"}, "x": {"datum": 165.46, "type": "quantitative"}, "x2": {"datum": 171.0}}},
      {"mark": {"type": "text", "align": "left", "fontSize": 15.5, "font": "Roboto, sans-serif", "yOffset": -17, "color": "#131722"},
       "encoding": {"y": {"field": "p", "type": "quantitative"}, "x": {"datum": 166.6, "type": "quantitative"}, "text": {"field": "t"}}}
    ]
  },
  {
    "data": {"name": "tags"},
    "transform": [{"filter": "datum.t == '1.18246'"}],
    "layer": [
      {"mark": {"type": "bar", "orient": "horizontal", "size": 22, "yOffset": -5, "color": "#f7525f"},
       "encoding": {"y": {"field": "p", "type": "quantitative"}, "x": {"datum": 165.46, "type": "quantitative"}, "x2": {"datum": 171.0}}},
      {"mark": {"type": "text", "align": "left", "fontSize": 15.5, "font": "Roboto, sans-serif", "yOffset": -5, "color": "#ffffff"},
       "encoding": {"y": {"field": "p", "type": "quantitative"}, "x": {"datum": 166.6, "type": "quantitative"}, "text": {"field": "t"}}}
    ]
  },
  {
    "data": {"name": "tags"},
    "transform": [{"filter": "datum.t == '1.17670'"}],
    "layer": [
      {"mark": {"type": "bar", "orient": "horizontal", "size": 22, "yOffset": 5, "color": "#000000"},
       "encoding": {"y": {"field": "p", "type": "quantitative"}, "x": {"datum": 165.46, "type": "quantitative"}, "x2": {"datum": 171.0}}},
      {"mark": {"type": "text", "align": "left", "fontSize": 15.5, "font": "Roboto, sans-serif", "yOffset": 5, "color": "#ffffff"},
       "encoding": {"y": {"field": "p", "type": "quantitative"}, "x": {"datum": 166.6, "type": "quantitative"}, "text": {"field": "t"}}}
    ]
  }
]
}
